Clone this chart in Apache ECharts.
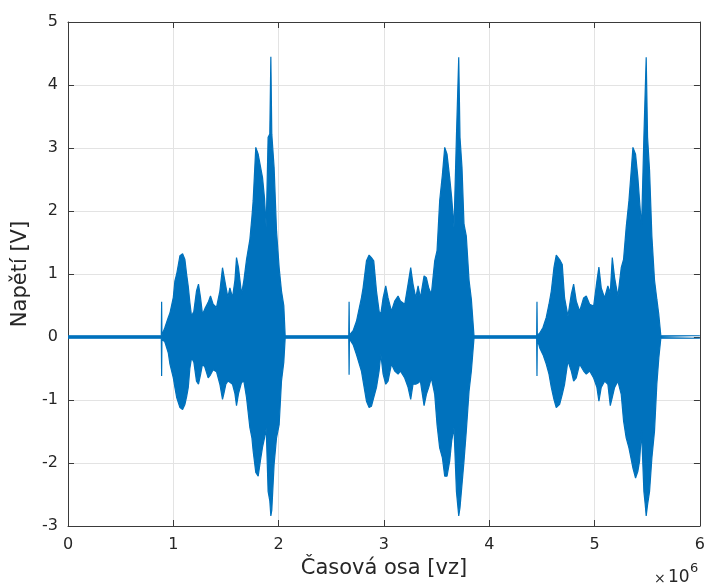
<!DOCTYPE html>
<html>
<head>
<meta charset="utf-8">
<script src="https://cdn.jsdelivr.net/npm/echarts@6/dist/echarts.min.js"></script>
<style>
  html, body { margin: 0; padding: 0; background: #ffffff; }
  #chart { width: 708px; height: 587px; }
</style>
</head>
<body>
<div id="chart"></div>
<script>
// Recorded voltage: envelope of each burst.
// Each row: [time in 10^6 samples, upper envelope (V), lower envelope (V)]
const idleLevel = 0.02;           // residual noise between bursts (V)
const timeSpan = [0, 6];          // x range, 10^6 samples
const voltageTicks = [-3, -2, -1, 0, 1, 2, 3, 4, 5];
const timeTicks = [0, 1, 2, 3, 4, 5, 6];

const burst1 = [
  [0.886, 0.02, -0.02], [0.889, 0.56, -0.62], [0.892, 0.03, -0.03],
  [0.905, 0.06, -0.05], [0.920, 0.15, -0.08], [0.952, 0.31, -0.25],
  [0.968, 0.38, -0.43], [1.000, 0.63, -0.65], [1.015, 0.89, -0.80],
  [1.032, 1.00, -0.96], [1.063, 1.29, -1.12], [1.088, 1.32, -1.15],
  [1.110, 1.23, -1.07], [1.126, 1.00, -0.95], [1.142, 0.80, -0.80],
  [1.157, 0.55, -0.50], [1.173, 0.33, -0.33], [1.195, 0.41, -0.40],
  [1.220, 0.73, -0.70], [1.239, 0.84, -0.75], [1.258, 0.63, -0.60],
  [1.277, 0.36, -0.43], [1.300, 0.45, -0.48], [1.331, 0.55, -0.65],
  [1.353, 0.65, -0.60], [1.378, 0.52, -0.52], [1.410, 0.47, -0.55],
  [1.442, 0.73, -0.75], [1.467, 1.10, -0.99], [1.480, 1.13, -0.90],
  [1.499, 0.80, -0.75], [1.518, 0.63, -0.70], [1.537, 0.78, -0.72],
  [1.562, 0.63, -0.75], [1.585, 0.90, -0.90], [1.600, 1.26, -1.09],
  [1.619, 1.10, -0.90], [1.648, 0.68, -0.72], [1.670, 0.90, -0.70],
  [1.695, 1.23, -0.96], [1.727, 1.55, -1.44], [1.746, 1.90, -1.60],
  [1.758, 2.16, -1.81], [1.783, 3.01, -2.15], [1.806, 2.90, -2.21],
  [1.828, 2.70, -1.95], [1.847, 2.53, -1.75], [1.866, 2.20, -1.60],
  [1.882, 1.74, -1.45], [1.900, 3.17, -2.45], [1.916, 3.22, -2.60],
  [1.926, 4.45, -2.84], [1.935, 3.22, -2.75], [1.957, 2.69, -2.02],
  [1.980, 1.68, -1.60], [2.005, 1.10, -1.39], [2.027, 0.73, -0.70],
  [2.049, 0.50, -0.40], [2.062, 0.02, -0.02]
];

const burst2 = [
  [2.666, 0.02, -0.02], [2.669, 0.56, -0.60], [2.672, 0.03, -0.03],
  [2.685, 0.05, -0.06], [2.707, 0.10, -0.12], [2.739, 0.25, -0.28],
  [2.786, 0.62, -0.54], [2.802, 0.78, -0.70], [2.834, 1.21, -1.02],
  [2.859, 1.30, -1.12], [2.881, 1.26, -1.10], [2.903, 1.21, -0.96],
  [2.929, 0.73, -0.80], [2.954, 0.41, -0.54], [2.970, 0.36, -0.27],
  [2.992, 0.62, -0.59], [3.017, 0.81, -0.75], [3.039, 0.62, -0.70],
  [3.071, 0.41, -0.43], [3.102, 0.57, -0.54], [3.134, 0.65, -0.59],
  [3.156, 0.57, -0.54], [3.197, 0.52, -0.65], [3.229, 0.84, -0.80],
  [3.254, 1.10, -0.99], [3.276, 0.84, -0.75], [3.302, 0.62, -0.75],
  [3.324, 0.81, -0.73], [3.346, 0.62, -0.70], [3.381, 0.97, -1.09],
  [3.403, 0.94, -0.91], [3.425, 0.78, -0.80], [3.450, 0.68, -0.65],
  [3.482, 1.21, -0.91], [3.504, 1.37, -1.39], [3.529, 2.16, -1.76],
  [3.555, 2.58, -1.92], [3.577, 3.01, -2.21], [3.599, 2.90, -2.21],
  [3.624, 2.53, -1.97], [3.643, 2.21, -1.65], [3.665, 1.74, -1.44],
  [3.688, 3.17, -2.45], [3.700, 3.19, -2.66], [3.710, 4.44, -2.84],
  [3.722, 3.17, -2.71], [3.741, 2.69, -2.34], [3.760, 1.79, -1.97],
  [3.782, 1.60, -1.49], [3.808, 0.90, -0.86], [3.830, 0.60, -0.54],
  [3.855, 0.02, -0.02]
];

const burst3 = [
  [4.450, 0.02, -0.02], [4.453, 0.56, -0.62], [4.456, 0.03, -0.03],
  [4.465, 0.04, -0.06], [4.478, 0.06, -0.17], [4.510, 0.15, -0.28],
  [4.541, 0.31, -0.43], [4.567, 0.52, -0.59], [4.589, 0.73, -0.80],
  [4.614, 1.10, -0.99], [4.636, 1.30, -1.12], [4.668, 1.23, -1.07],
  [4.693, 1.15, -0.91], [4.715, 0.62, -0.75], [4.747, 0.33, -0.38],
  [4.779, 0.68, -0.54], [4.801, 0.84, -0.70], [4.826, 0.57, -0.65],
  [4.858, 0.41, -0.43], [4.896, 0.62, -0.54], [4.921, 0.65, -0.59],
  [4.953, 0.52, -0.54], [4.991, 0.49, -0.65], [5.022, 0.89, -0.80],
  [5.041, 1.11, -1.02], [5.063, 0.78, -0.80], [5.095, 0.62, -0.70],
  [5.126, 0.81, -0.75], [5.149, 0.70, -1.09], [5.168, 1.26, -0.96],
  [5.190, 0.94, -0.80], [5.221, 0.65, -0.70], [5.253, 1.10, -0.91],
  [5.275, 1.23, -1.33], [5.300, 1.74, -1.60], [5.326, 2.16, -1.76],
  [5.345, 2.58, -1.92], [5.364, 3.01, -2.08], [5.389, 2.90, -2.24],
  [5.411, 2.53, -2.13], [5.427, 2.16, -1.97], [5.446, 1.74, -1.49],
  [5.468, 3.17, -2.45], [5.481, 3.19, -2.66], [5.490, 4.44, -2.84],
  [5.503, 3.17, -2.66], [5.522, 2.64, -2.45], [5.544, 1.60, -1.92],
  [5.569, 0.90, -1.49], [5.591, 0.60, -0.75], [5.610, 0.35, -0.33],
  [5.629, 0.02, -0.02]
];

const signalColor = '#0072BD';
const axisColor = '#3a3a3a';
const textColor = '#262626';
const gridColor = '#e3e3e3';
const fontFamily = 'DejaVu Sans';

// Upper and lower envelope traces, with idle noise before, between and after the bursts
const bursts = [burst1, burst2, burst3];
const upperTrace = [[timeSpan[0], idleLevel]];
const lowerTrace = [[timeSpan[0], -idleLevel]];
bursts.forEach(function (b) {
  b.forEach(function (row) {
    upperTrace.push([row[0], row[1]]);
    lowerTrace.push([row[0], row[2]]);
  });
});
upperTrace.push([timeSpan[1], idleLevel]);
lowerTrace.push([timeSpan[1], -idleLevel]);

const chart = echarts.init(document.getElementById('chart'), null, { renderer: 'canvas' });

function boxAxis(position, isX) {
  const common = {
    position: position,
    min: isX ? timeSpan[0] : voltageTicks[0],
    max: isX ? timeSpan[1] : voltageTicks[voltageTicks.length - 1],
    interval: 1,
    axisLine: { show: true, onZero: false, lineStyle: { color: axisColor, width: 1 } },
    axisTick: { show: true, inside: true, length: 6, lineStyle: { color: axisColor, width: 1 } },
    axisLabel: { show: false },
    splitLine: { show: false }
  };
  return Object.assign({ type: 'value' }, common);
}

const xMain = boxAxis('bottom', true);
Object.assign(xMain, {
  name: 'Časová osa [vz]',
  nameLocation: 'middle',
  nameGap: 32,
  nameTextStyle: { fontFamily: fontFamily, fontSize: 21, color: textColor },
  axisLabel: {
    show: true, margin: 11, fontFamily: fontFamily, fontSize: 16, color: textColor,
    formatter: function (v) { return timeTicks.indexOf(v) >= 0 ? String(v) : ''; }
  },
  splitLine: { show: true, lineStyle: { color: gridColor, width: 1 } }
});
const xTop = boxAxis('top', true);

const yMain = boxAxis('left', false);
Object.assign(yMain, {
  name: 'Napětí [V]',
  nameLocation: 'middle',
  nameGap: 34,
  nameTextStyle: { fontFamily: fontFamily, fontSize: 21, color: textColor },
  axisLabel: {
    show: true, margin: 10, fontFamily: fontFamily, fontSize: 16, color: textColor,
    formatter: function (v) { return voltageTicks.indexOf(v) >= 0 ? String(v) : ''; }
  },
  splitLine: { show: true, lineStyle: { color: gridColor, width: 1 } }
});
const yRight = boxAxis('right', false);

function envelopeSeries(name, data) {
  return {
    name: name,
    type: 'line',
    xAxisIndex: 0,
    yAxisIndex: 0,
    data: data,
    showSymbol: false,
    symbol: 'none',
    smooth: false,
    animation: false,
    lineStyle: { color: signalColor, width: 1.2 },
    areaStyle: { color: signalColor, opacity: 1, origin: 'auto' },
    z: 3
  };
}

chart.setOption({
  backgroundColor: '#ffffff',
  animation: false,
  grid: { left: 68, right: 7, top: 22, bottom: 61, containLabel: false },
  xAxis: [xMain, xTop],
  yAxis: [yMain, yRight],
  series: [
    envelopeSeries('upper', upperTrace),
    envelopeSeries('lower', lowerTrace)
  ],
  graphic: [
    {
      type: 'text', left: 654, top: 572,
      style: { text: '×', fontFamily: fontFamily, fontSize: 14, fill: textColor }
    },
    {
      type: 'text', left: 668, top: 569,
      style: { text: '10', fontFamily: fontFamily, fontSize: 17, fill: textColor }
    },
    {
      type: 'text', left: 690, top: 562,
      style: { text: '6', fontFamily: fontFamily, fontSize: 13, fill: textColor }
    }
  ]
});
</script>
</body>
</html>
